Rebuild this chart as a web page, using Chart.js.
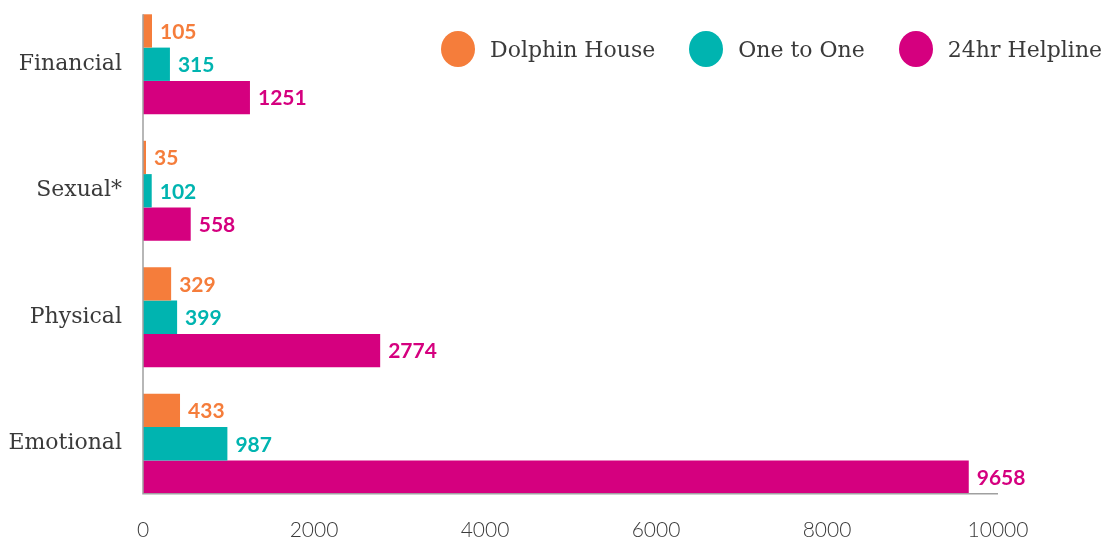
<!DOCTYPE html>
<html>
<head>
<meta charset="utf-8">
<script src="https://cdn.jsdelivr.net/npm/chart.js@4.4.0/dist/chart.umd.min.js"></script>
<style>
  html, body { margin: 0; padding: 0; background: #fff; }
  #wrap { position: relative; width: 1110px; height: 538px; }
  #legend { position: absolute; left: 441px; top: 31px; display: flex; gap: 34px; }
  .item { display: flex; align-items: center; font-family: "DejaVu Serif", serif; font-size: 22px; color: #3a3a3a; }
  .dot { width: 34px; height: 36px; border-radius: 50%; margin-right: 15px; }
</style>
</head>
<body>
<div id="wrap">
  <canvas id="chart" width="1110" height="538"></canvas>
  <div id="legend"></div>
</div>
<script>
const categories = ["Financial", "Sexual*", "Physical", "Emotional"];
const seriesNames = ["Dolphin House", "One to One", "24hr Helpline"];
const dolphinHouse = [105, 35, 329, 433];
const oneToOne = [315, 102, 399, 987];
const helpline = [1251, 558, 2774, 9658];
const xTicks = [0, 2000, 4000, 6000, 8000, 10000];
const colors = ["#F57D3B", "#00B4B0", "#D5007F"];

const seriesValues = [dolphinHouse, oneToOne, helpline];

// legend
const legend = document.getElementById("legend");
seriesNames.forEach((name, i) => {
    const item = document.createElement("div");
    item.className = "item";
    item.innerHTML = '<span class="dot" style="background:' + colors[i] + '"></span>' + name;
    legend.appendChild(item);
});

// axis lines + value labels
const decorations = {
    id: "decorations",
    afterDatasetsDraw(chart) {
        const ctx = chart.ctx;
        const x = chart.scales.x;
        const first = chart.getDatasetMeta(0).data[0];
        const last = chart.getDatasetMeta(2).data[categories.length - 1];
        const top = first.y - first.height / 2;
        const bottom = last.y + last.height / 2;

        ctx.save();
        ctx.strokeStyle = "#a0a0a0";
        ctx.lineWidth = 1.5;
        ctx.beginPath();
        ctx.moveTo(x.left, top);
        ctx.lineTo(x.left, bottom);
        ctx.lineTo(x.right, bottom);
        ctx.stroke();

        ctx.font = "bold 21px Lato";
        ctx.textBaseline = "middle";
        ctx.textAlign = "left";
        chart.data.datasets.forEach((ds, i) => {
            chart.getDatasetMeta(i).data.forEach((bar, j) => {
                ctx.fillStyle = colors[i];
                ctx.fillText(ds.data[j], bar.x + 8, bar.y + 1);
            });
        });
        ctx.restore();
    }
};

new Chart(document.getElementById("chart"), {
    type: "bar",
    data: {
        labels: categories,
        datasets: seriesNames.map((name, i) => ({
            label: name,
            data: seriesValues[i],
            backgroundColor: colors[i],
            categoryPercentage: 0.79,
            barPercentage: 1.0
        }))
    },
    options: {
        indexAxis: "y",
        responsive: false,
        animation: false,
        layout: { padding: { top: 1, right: 112, left: 0, bottom: 0 } },
        plugins: {
            legend: { display: false },
            tooltip: { enabled: false }
        },
        scales: {
            x: {
                min: 0,
                max: 10000,
                afterBuildTicks(scale) {
                    scale.ticks = xTicks.map(v => ({ value: v }));
                },
                afterFit(scale) { scale.height = 31; },
                grid: { display: false },
                border: { display: false },
                ticks: {
                    padding: 3,
                    maxRotation: 0,
                    color: "#3a3a3a",
                    font: { family: "Lato", size: 21, weight: 300 },
                    callback: v => String(v)
                }
            },
            y: {
                afterFit(scale) {
                    scale.width = 143;
                    scale.paddingTop = 0;
                    scale.paddingBottom = 0;
                },
                grid: { display: false },
                border: { display: false },
                ticks: {
                    padding: 13,
                    color: "#3a3a3a",
                    font: { family: "DejaVu Serif", size: 22 }
                }
            }
        }
    },
    plugins: [decorations]
});
</script>
</body>
</html>
